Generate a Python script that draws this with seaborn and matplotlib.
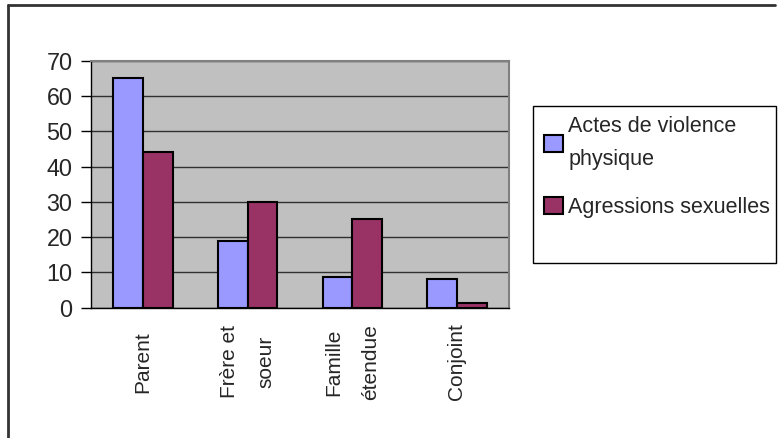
import numpy as np
import pandas as pd
import seaborn as sns
import matplotlib
matplotlib.use("Agg")
import matplotlib.pyplot as plt
from matplotlib.patches import Patch, Rectangle
from matplotlib.lines import Line2D

categories = ["Parent", "Frère et\nsoeur", "Famille\nétendue", "Conjoint"]
series_names = ["Actes de violence\nphysique", "Agressions sexuelles"]
violence_physique = [65, 19, 8.6, 8]
agressions_sexuelles = [44, 30, 25, 1.2]
y_ticks = [0, 10, 20, 30, 40, 50, 60, 70]
colors = ["#9999FF", "#993366"]

df = pd.DataFrame({
    "cat": categories * 2,
    "serie": [series_names[0]] * 4 + [series_names[1]] * 4,
    "val": violence_physique + agressions_sexuelles,
})

sns.set_theme(style="white")
plt.rcParams["font.family"] = ["Liberation Sans", "DejaVu Sans"]

W, H = 784, 438
fig = plt.figure(figsize=(W / 100, H / 100), dpi=100)
ax = fig.add_axes([90.7 / W, 1 - 307.7 / H, (509.3 - 90.7) / W, (307.7 - 60.7) / H])

sns.barplot(data=df, x="cat", y="val", hue="serie", order=categories,
            hue_order=series_names, palette=colors, width=0.565, gap=0,
            edgecolor="black", linewidth=1.5, saturation=1, ax=ax, legend=False)

ax.set_facecolor("#C0C0C0")
ax.set_xlim(-0.5, 3.5)
ax.set_ylim(0, 70)
ax.set_yticks(y_ticks)
ax.set_yticklabels([str(v) for v in y_ticks], fontsize=16.8)
ax.set_xlabel("")
ax.set_ylabel("")
ax.yaxis.grid(True, color="#303030", linewidth=1)
ax.set_axisbelow(True)

# category labels on minor ticks, boundary ticks on major
ax.set_xticks(np.arange(-0.5, 4.0, 1.0))
ax.set_xticklabels([""] * 5)
ax.set_xticks(np.arange(len(categories)), minor=True)
ax.set_xticklabels(categories, minor=True, rotation=90, fontsize=15,
                   linespacing=2.2, va="center", ha="center")
ax.tick_params(axis="x", which="minor", length=0, pad=39)
ax.tick_params(axis="x", which="major", length=7, width=1, color="black", direction="out")
ax.tick_params(axis="y", length=7, width=1, color="black", pad=6, direction="out", left=True)

for s in ["left", "bottom"]:
    ax.spines[s].set_color("black")
    ax.spines[s].set_linewidth(1)
for s in ["top", "right"]:
    ax.spines[s].set_color("#808080")
    ax.spines[s].set_linewidth(1.5)

# legend
handles = [Patch(facecolor=c, edgecolor="black", linewidth=1.5) for c in colors]
leg = fig.legend(handles, series_names, loc="upper left",
                 bbox_to_anchor=(544 / W, 1 - 116 / H), frameon=False,
                 prop={"size": 15.5},
                 handlelength=0.88, handleheight=0.88, handletextpad=0.25,
                 labelspacing=1.25, borderpad=0, borderaxespad=0)
for t in leg.get_texts():
    t.set_linespacing(1.75)
fig.patches.append(Rectangle((533 / W, 1 - 263 / H), 243 / W, 157 / H,
                             transform=fig.transFigure, fill=False,
                             edgecolor="black", linewidth=1))

# outer frame (left and top edges)
fig.lines.append(Line2D([8 / W, 8 / W], [0, 1 - 5 / H], transform=fig.transFigure,
                        color="#333333", linewidth=2))
fig.lines.append(Line2D([8 / W, 775 / W], [1 - 5 / H, 1 - 5 / H], transform=fig.transFigure,
                        color="#333333", linewidth=2))

fig.savefig("out.png", dpi=100)
